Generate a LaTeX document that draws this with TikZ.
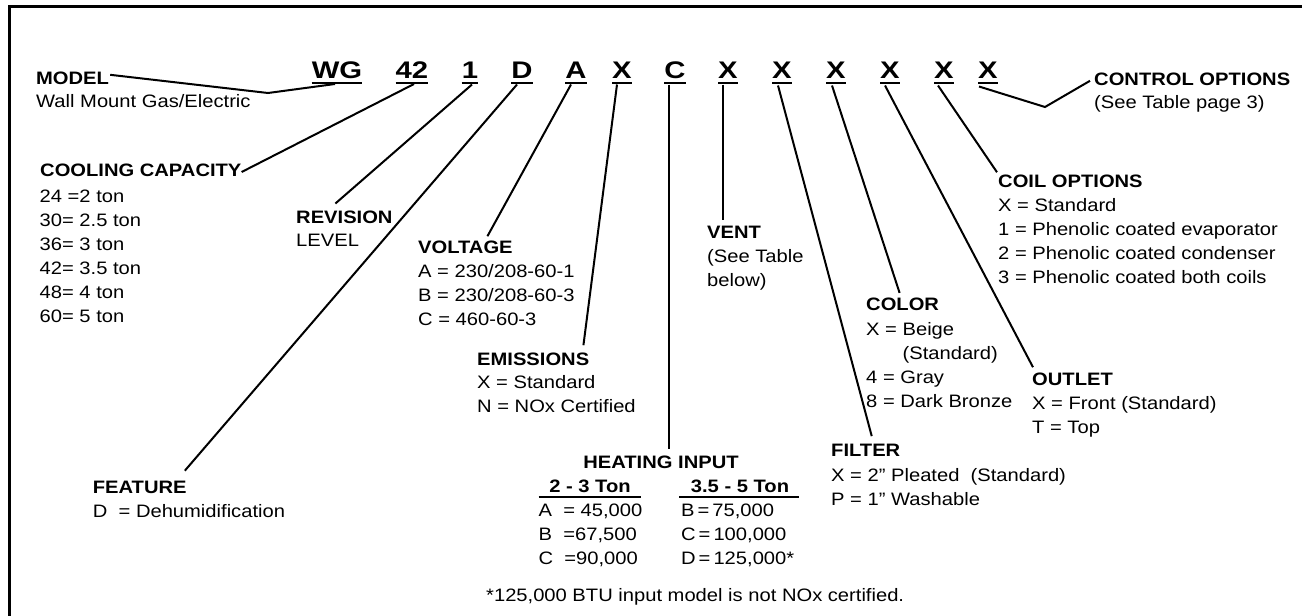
\documentclass[tikz,border=0pt]{standalone}
\usepackage{fontspec}
\setmainfont[FakeStretch=1.12]{Liberation Sans}
\newfontfamily\codefont[FakeStretch=1.22]{Liberation Sans}
\usetikzlibrary{calc}
\tikzset{
  code/.style={font=\codefont\bfseries\fontsize{24}{24}\selectfont, inner sep=0pt, anchor=base},
  head/.style={font=\bfseries\fontsize{18}{24}\selectfont, inner sep=0pt, anchor=base west},
  vals/.style={font=\fontsize{18}{24}\selectfont, inner sep=0pt, anchor=base west},
  conn/.style={line width=2pt},
  uline/.style={line width=2pt},
  frame/.style={line width=2.5pt}
}
\newcommand{\lines}[1]{\begin{tabular}[t]{@{}l@{}}#1\end{tabular}}
\begin{document}
\begin{tikzpicture}[x=1pt,y=-1pt]
\useasboundingbox (0,0) rectangle (1302,616);
% frame
\coordinate (ftr) at (1302,6.5);
\coordinate (ftl) at (9.5,6.5);
\coordinate (fbl) at (9.5,616);
\draw[frame] (fbl) -- (ftl) -- (ftr);

% code letters
\foreach \n/\t/\x in {wg/WG/337, c42/42/412, c1/1/470, cD/D/522, cA/A/576, x1/X/622, cC/C/675, x2/X/728, x3/X/782, x4/X/836, x5/X/890, x6/X/944, x7/X/988}{
  \node[code] (\n) at (\x,78.5) {\t};
  \draw[uline] ($(\n.base west)+(0,4.5)$) -- ($(\n.base east)+(0,4.5)$);
}

% headings and values
\node[head] (model) at (36,84) {MODEL};
\node[vals] (modelv) at (36,107) {Wall Mount Gas/Electric};
\node[head] (cont) at (1094,85) {CONTROL OPTIONS};
\node[vals] (contv) at (1094,108) {(See Table page 3)};
\node[head] (cool) at (40,176.7) {COOLING CAPACITY};
\node[vals] (coolv) at (39.5,202.7) {\lines{24 =2 ton\\30= 2.5 ton\\36= 3 ton\\42= 3.5 ton\\48= 4 ton\\60= 5 ton}};
\node[head] (rev) at (296,223.3) {REVISION};
\node[vals] (revv) at (296,246.7) {LEVEL};
\node[head] (volt) at (418,253) {VOLTAGE};
\node[vals] (voltv) at (418,277.5) {\lines{A = 230/208-60-1\\B = 230/208-60-3\\C = 460-60-3}};
\node[head] (emis) at (477,365) {EMISSIONS};
\node[vals] (emisv) at (477,388.5) {\lines{X = Standard\\N = NOx Certified}};
\node[head] (vent) at (707,238.3) {VENT};
\node[vals] (ventv) at (707,262) {\lines{(See Table\\below)}};
\node[head] (color) at (866,310.7) {COLOR};
\node[vals] (colorv) at (866,335) {\lines{X = Beige\\\phantom{X = }(Standard)\\4 = Gray\\8 = Dark Bronze}};
\node[head] (coil) at (998,187) {COIL OPTIONS};
\node[vals] (coilv) at (998,211.5) {\lines{X = Standard\\1 = Phenolic coated evaporator\\2 = Phenolic coated condenser\\3 = Phenolic coated both coils}};
\node[head] (outl) at (1032,385) {OUTLET};
\node[vals] (outlv) at (1032,409.5) {\lines{X = Front (Standard)\\T = Top}};
\node[head] (filt) at (831,456.7) {FILTER};
\node[vals] (filtv) at (831,481) {\lines{X = 2” Pleated\ \ (Standard)\\P = 1” Washable}};
\node[head, anchor=base] (heat) at (661,468.3) {HEATING INPUT};
\node[head, anchor=base] (h23) at (590,492.7) {2 - 3 Ton};
\node[head, anchor=base] (h35) at (740,492.7) {3.5 - 5 Ton};
\draw[uline] ($(h23.base)+(-51.5,4)$) -- ($(h23.base)+(51,4)$);
\draw[uline] ($(h35.base)+(-61,4)$) -- ($(h35.base)+(59,4)$);
\node[vals] (h23v) at (538.5,516) {\lines{A\ \ = 45,000\\B\ \ =67,500\\C\ \ =90,000}};
\node[vals] (h35v) at (681,516) {\lines{B\,=\,75,000\\C\,=\,100,000\\D\,=\,125,000*}};
\node[head] (feat) at (92.7,493.3) {FEATURE};
\node[vals] (featv) at (92.7,517.3) {D\ \ = Dehumidification};
\node[vals] (note) at (486,601.7) {*125,000 BTU input model is not NOx certified.};

% connectors
\coordinate (mbend) at (268,93);
\coordinate (cbend) at (1045,107);
\draw[conn] ($(model.east)+(1,-3)$) -- (mbend) -- ($(wg.base)+(-2,5.5)$);
\draw[conn] ($(cool.east)+(0,1.5)$) -- ($(c42.base)+(2,5.5)$);
\draw[conn] ($(rev.north)+(-9,-7)$) -- ($(c1.base)+(2,6)$);
\draw[conn] ($(feat.north east)+(-2,-10)$) -- ($(cD.base)+(-5,6)$);
\draw[conn] ($(volt.north)+(22,-4)$) -- ($(cA.base)+(-5,6)$);
\draw[conn] ($(emis.north east)+(-6,-7)$) -- ($(x1.base)+(-5,6)$);
\draw[conn] ($(cC.base)+(-6,6)$) -- ($(cC.base |- heat.north)+(-6,-7)$);
\draw[conn] ($(x2.base)+(-5,6)$) -- ($(x2.base |- vent.north)+(-5,-6)$);
\draw[conn] ($(x3.base)+(-4,7)$) -- ($(filt.north)+(6,-8)$);
\draw[conn] ($(x4.base)+(-4,7)$) -- ($(color.north)+(-3,-5)$);
\draw[conn] ($(x5.base)+(-5,7)$) -- ($(outl.north west)+(1,-5)$);
\draw[conn] ($(x6.base)+(-6,7)$) -- ($(coil.north west)+(-1,-2)$);
\draw[conn] ($(x7.base west)+(1,8)$) -- (cbend) -- ($(cont.west)+(-4,2)$);
\end{tikzpicture}
\end{document}
